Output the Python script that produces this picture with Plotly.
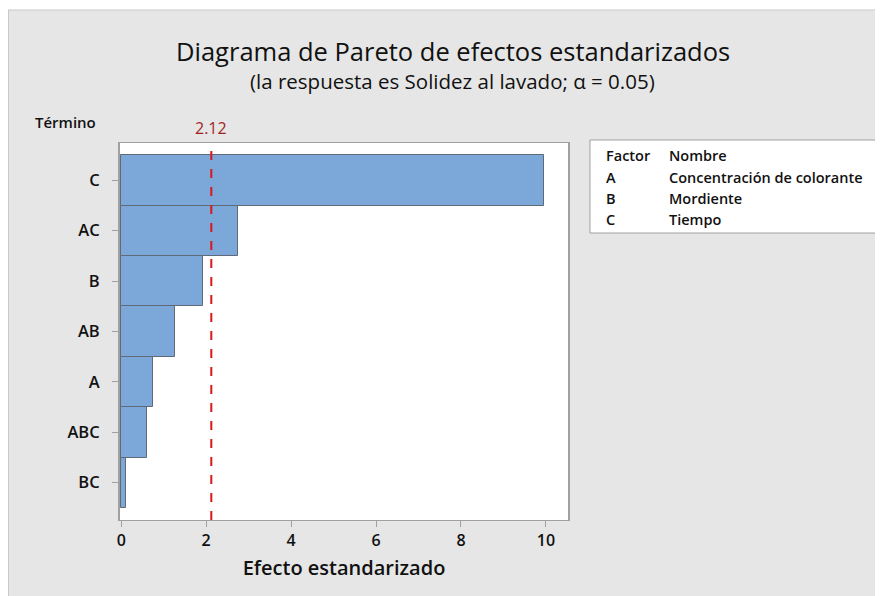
import plotly.graph_objects as go

terms = ["C", "AC", "B", "AB", "A", "ABC", "BC"]
effects = [9.95, 2.75, 1.92, 1.27, 0.75, 0.61, 0.10]
ref_value = 2.12
x_ticks = [0, 2, 4, 6, 8, 10]
factor_codes = ["A", "B", "C"]
factor_names = ["Concentración de colorante", "Mordiente", "Tiempo"]

# page has an 8px body margin: screen = figure + 8
OFF = 8
W, H = 883, 596
L, R, T, B = 120 - OFF, W - (568 - OFF), 143 - OFF, H - (520 - OFF)
pw, ph = W - L - R, H - T - B

def px_x(x):
    x -= OFF
    return (x - L) / pw

def px_y(y):
    y -= OFF
    return 1 + (T - y) / ph

FONT = "Open Sans"
fig = go.Figure()
fig.add_trace(go.Bar(
    y=terms, x=effects, orientation="h", width=1.0,
    marker=dict(color="#7ba7d9", line=dict(color="#5f6977", width=1)),
    hoverinfo="x+y", showlegend=False,
))

fig.add_shape(type="line", xref="x", yref="paper", x0=ref_value, x1=ref_value, y0=0, y1=1,
              line=dict(color="#d9181c", width=2, dash="dash"))

# thin white strip at top and frame line
fig.add_shape(type="rect", xref="paper", yref="paper", x0=px_x(0), x1=px_x(W + 20),
              y0=px_y(10), y1=px_y(0), fillcolor="white", line=dict(width=0), layer="above")
fig.add_shape(type="line", xref="paper", yref="paper", x0=px_x(8), x1=px_x(W + 20),
              y0=px_y(10), y1=px_y(10), line=dict(color="#c8c8c8", width=1))
fig.add_shape(type="line", xref="paper", yref="paper", x0=px_x(8.5), x1=px_x(8.5),
              y0=px_y(10), y1=px_y(H + 20), line=dict(color="#c8c8c8", width=1))

# legend box
fig.add_shape(type="rect", xref="paper", yref="paper", x0=px_x(590), x1=px_x(878),
              y0=px_y(233), y1=px_y(140), fillcolor="white", line=dict(color="#a0a0a0", width=1))

ann = []
ann.append(dict(text="Diagrama de Pareto de efectos estandarizados", x=px_x(453), y=px_y(51),
                xref="paper", yref="paper", showarrow=False, xanchor="center", yanchor="middle",
                font=dict(family=FONT, size=25.5, color="#111111", weight=500)))
ann.append(dict(text="(la respuesta es Solidez al lavado; α = 0.05)", x=px_x(452), y=px_y(81),
                xref="paper", yref="paper", showarrow=False, xanchor="center", yanchor="middle",
                font=dict(family=FONT, size=20.5, color="#111111", weight=500)))
ann.append(dict(text="Término", x=px_x(33), y=px_y(122), xref="paper", yref="paper",
                showarrow=False, xanchor="left", yanchor="middle",
                font=dict(family=FONT, size=15, color="#111111", weight=600)))
ann.append(dict(text=f"{ref_value:.2f}", x=ref_value, y=px_y(128), xref="x", yref="paper",
                showarrow=False, xanchor="center", yanchor="middle",
                font=dict(family=FONT, size=16, color="#a31f1f")))

rows = [("Factor", "Nombre")] + list(zip(factor_codes, factor_names))
for i, (c, n) in enumerate(rows):
    yy = px_y(156 + 21 * i)
    ann.append(dict(text=c, x=px_x(604), y=yy, xref="paper", yref="paper", showarrow=False,
                    xanchor="left", yanchor="middle",
                    font=dict(family=FONT, size=14.5, color="#111111", weight=600)))
    ann.append(dict(text=n, x=px_x(667), y=yy, xref="paper", yref="paper", showarrow=False,
                    xanchor="left", yanchor="middle",
                    font=dict(family=FONT, size=14.5, color="#111111", weight=600)))

fig.update_layout(
    width=W, height=H,
    margin=dict(l=L, r=R, t=T, b=B),
    paper_bgcolor="#e6e6e6", plot_bgcolor="white",
    bargap=0, showlegend=False,
    annotations=ann,
    font=dict(family=FONT, color="#111111"),
    xaxis=dict(range=[-0.03, 10.52], tickvals=x_ticks, ticks="outside", ticklen=6,
               tickcolor="#a0a0a0", showgrid=False, zeroline=False, showline=True,
               linecolor="#a0a0a0", linewidth=1, mirror=True,
               tickfont=dict(family=FONT, size=16, color="#111111", weight=600),
               title=dict(text="Efecto estandarizado", standoff=10,
                          font=dict(family=FONT, size=20, color="#111111", weight=600))),
    yaxis=dict(categoryorder="array", categoryarray=terms, range=[6.74, -0.74],
               ticks="outside", ticklen=6, tickcolor="#a0a0a0", showgrid=False,
               zeroline=False, showline=True, linecolor="#a0a0a0", linewidth=2, mirror=True,
               ticklabelstandoff=9,
               tickfont=dict(family=FONT, size=16.5, color="#111111", weight=600)),
)

fig.write_html("out.html")
